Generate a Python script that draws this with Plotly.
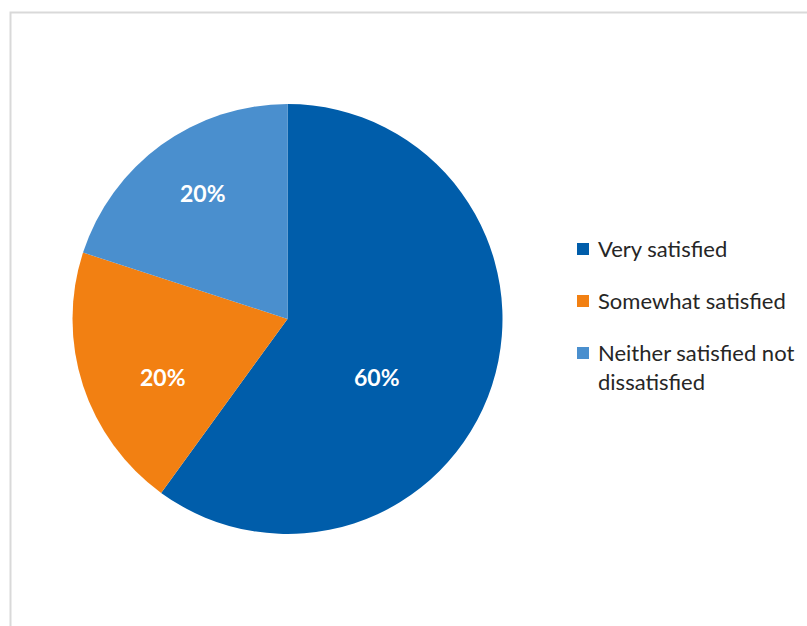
import plotly.graph_objects as go

W, H = 807, 626

labels = ["Very satisfied", "Somewhat satisfied", "Neither satisfied not dissatisfied"]
legend_text = ["Very satisfied", "Somewhat satisfied", "Neither satisfied not<br>dissatisfied"]
values = [60, 20, 20]
colors = ["#005DAA", "#F28012", "#4A8FCE"]

# pie geometry in pixels
cx, cy, r = 287.5, 319, 215
# data-label anchor points (pixels)
label_xy = [(377, 377), (163, 377), (203, 193)]


def px(x):
    return x / W


def py(y):
    return 1 - y / H


fig = go.Figure(
    go.Pie(
        labels=labels,
        values=values,
        sort=False,
        direction="clockwise",
        rotation=0,
        marker=dict(colors=colors, line=dict(width=0)),
        textinfo="none",
        domain=dict(x=[px(cx - r), px(cx + r)], y=[py(cy + r), py(cy - r)]),
        showlegend=False,
        hoverinfo="label+percent",
    )
)

shapes = [
    # chart area frame
    dict(type="rect", xref="paper", yref="paper",
         x0=px(10.5), x1=px(W + 20), y0=py(H + 20), y1=py(12.5),
         line=dict(color="#D9D9D9", width=2), fillcolor="rgba(0,0,0,0)", layer="below"),
]
annotations = []

# percentage labels on the slices
total = sum(values)
for v, (lx, ly) in zip(values, label_xy):
    annotations.append(dict(xref="paper", yref="paper", x=px(lx), y=py(ly),
                            xanchor="center", yanchor="middle",
                            text=f"{100 * v / total:.0f}%", showarrow=False,
                            font=dict(family="Lato", size=23, color="white", weight="bold")))

# legend drawn as swatches and labels
legend_y = [249, 301, 353]
for i, (txt, col) in enumerate(zip(legend_text, colors)):
    y = legend_y[i]
    shapes.append(dict(type="rect", xref="paper", yref="paper",
                       x0=px(577), x1=px(589), y0=py(y + 6), y1=py(y - 6),
                       fillcolor=col, line=dict(width=0)))
    annotations.append(dict(xref="paper", yref="paper", x=px(596), y=py(y - 16),
                            xanchor="left", yanchor="top", align="left",
                            text=txt, showarrow=False,
                            font=dict(family="Lato", size=22, color="#262626")))

fig.update_layout(
    width=W, height=H,
    margin=dict(l=0, r=0, t=0, b=0),
    paper_bgcolor="white",
    shapes=shapes,
    annotations=annotations,
)

fig.write_html("out.html")
